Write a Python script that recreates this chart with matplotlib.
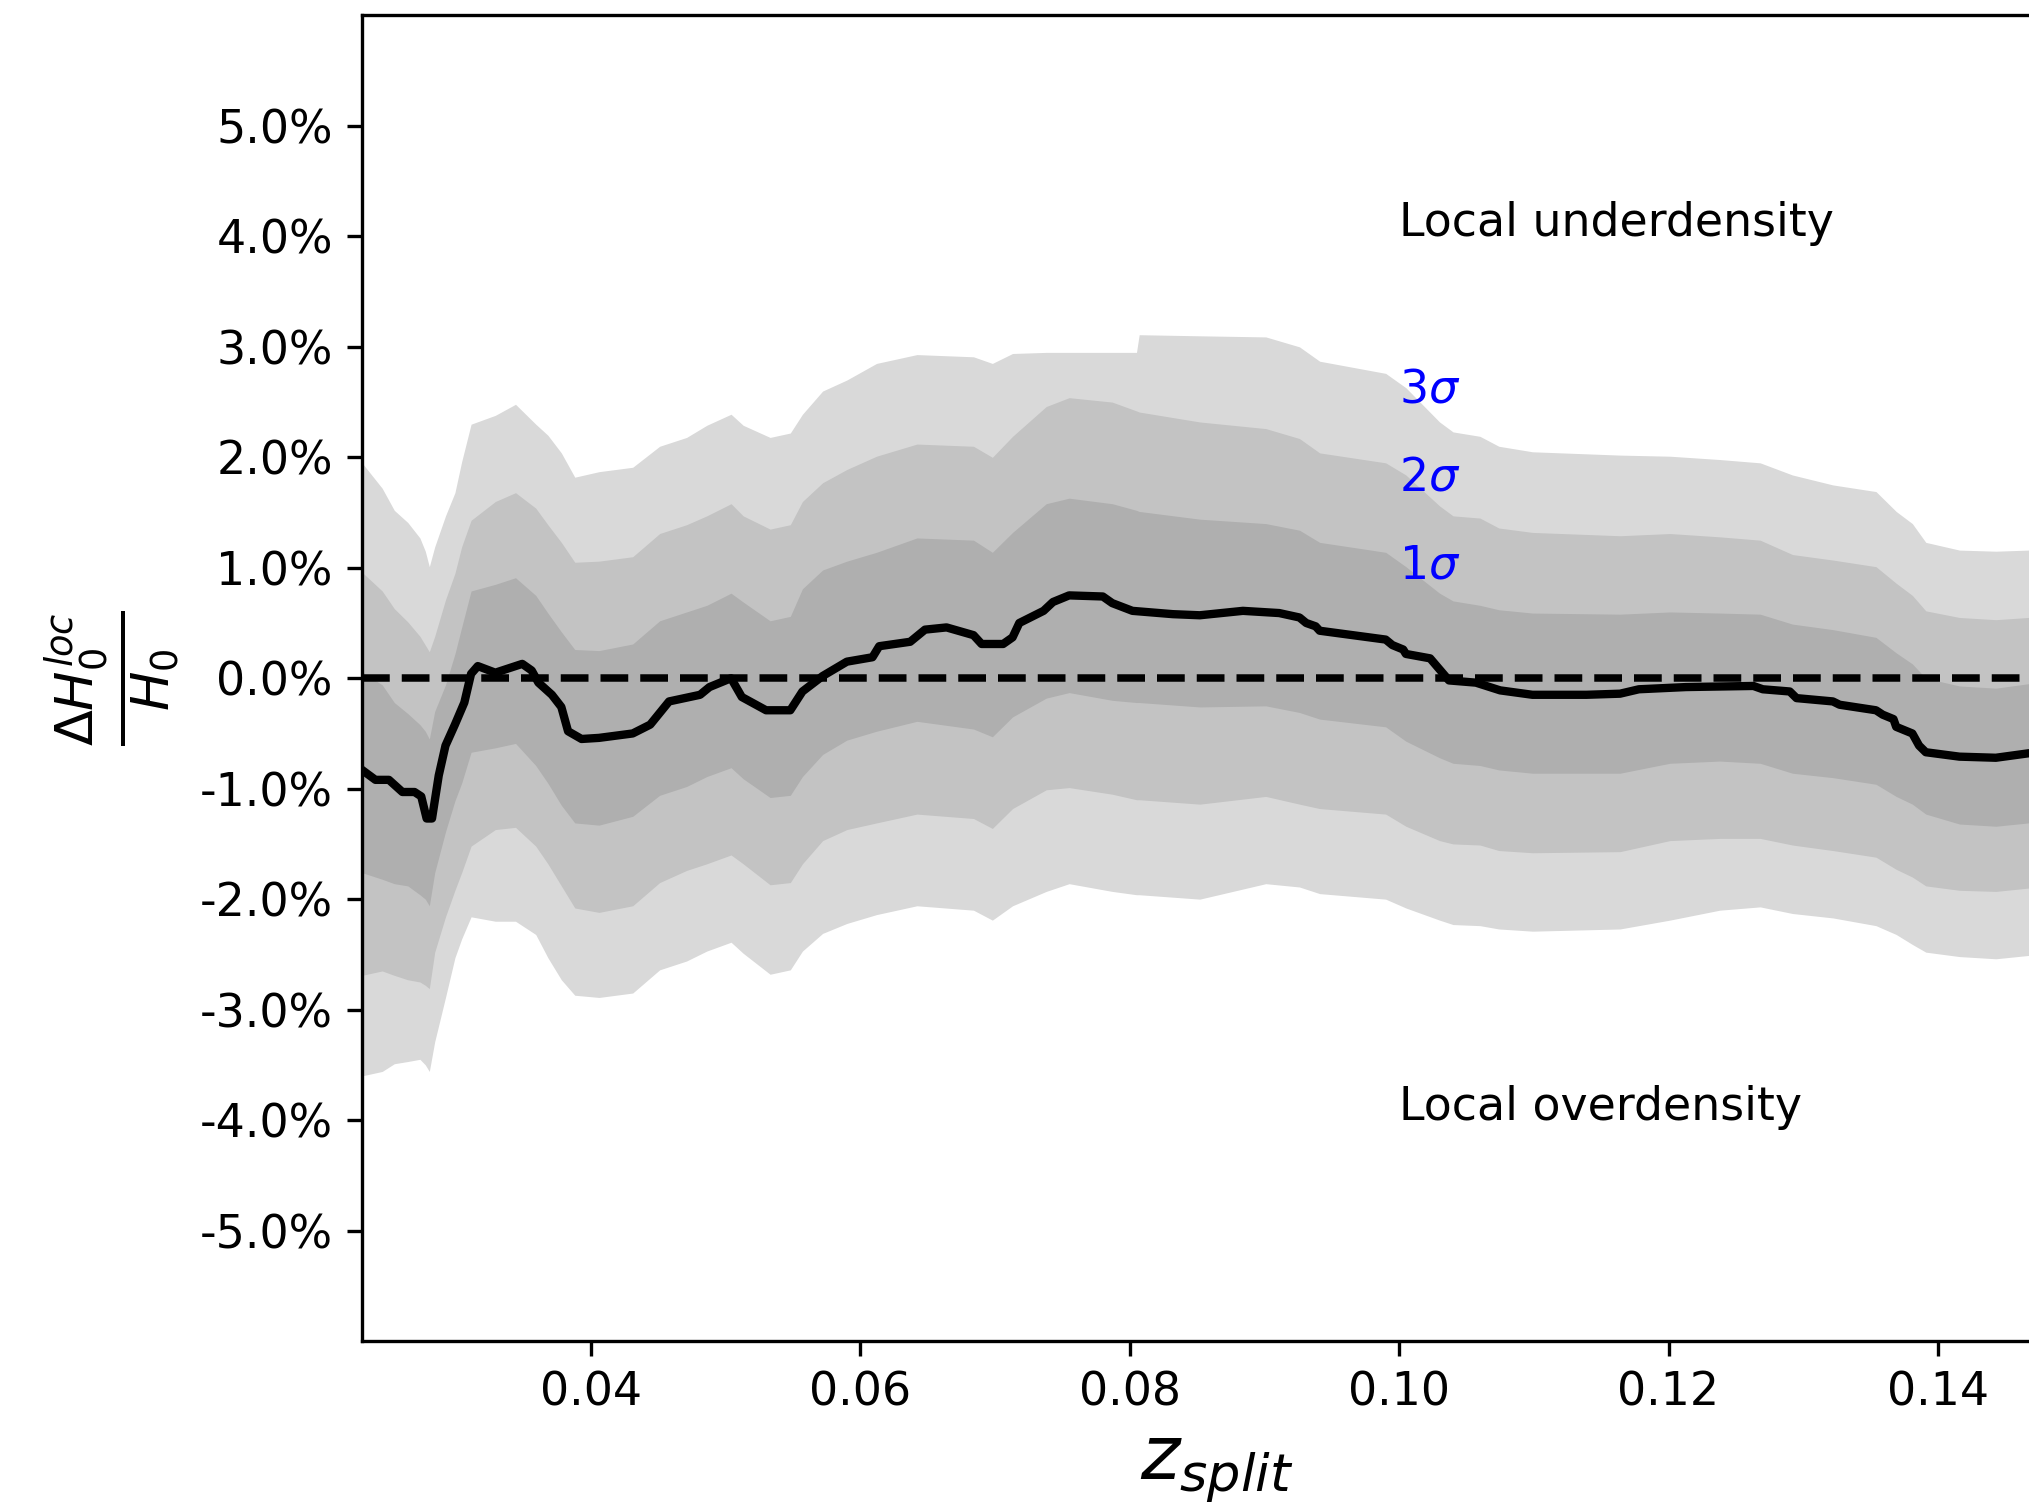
import matplotlib
matplotlib.use('Agg')
import matplotlib.pyplot as plt
from matplotlib.ticker import FuncFormatter

# sigma bands (in %)
band_z = [0.0230, 0.0245, 0.0254, 0.0264, 0.0273, 0.0277, 0.0280, 0.0284, 0.0292, 0.0299,
          0.0304, 0.0311, 0.0329, 0.0344, 0.0359, 0.0368, 0.0378, 0.0388, 0.0406, 0.0431,
          0.0451, 0.0471, 0.0486, 0.0504, 0.0513, 0.0533, 0.0548, 0.0557, 0.0572, 0.0590,
          0.0612, 0.0642, 0.0684, 0.0698, 0.0713, 0.0738, 0.0755, 0.0787, 0.0805,
          0.0807, 0.0852, 0.0901, 0.0926, 0.0941, 0.0990, 0.1005, 0.1030, 0.1040, 0.1060,
          0.1074, 0.1099, 0.1164, 0.1201, 0.1238, 0.1268, 0.1292, 0.1322, 0.1354, 0.1369,
          0.1381, 0.1391, 0.1416, 0.1443, 0.1467, 0.1500]
up3 = [1.95, 1.72, 1.52, 1.41, 1.27, 1.15, 1.01, 1.19, 1.47, 1.68,
       1.96, 2.30, 2.38, 2.48, 2.30, 2.20, 2.04, 1.82, 1.87, 1.91,
       2.10, 2.18, 2.29, 2.39, 2.29, 2.18, 2.22, 2.39, 2.60, 2.70,
       2.85, 2.93, 2.91, 2.85, 2.94, 2.95, 2.95, 2.95, 2.95,
       3.11, 3.10, 3.09, 3.00, 2.87, 2.76, 2.63, 2.32, 2.23, 2.19,
       2.10, 2.05, 2.02, 2.01, 1.98, 1.95, 1.84, 1.75, 1.69, 1.51,
       1.40, 1.23, 1.16, 1.15, 1.16, 1.17]
up2 = [0.96, 0.79, 0.63, 0.51, 0.38, 0.30, 0.24, 0.38, 0.71, 0.95,
       1.19, 1.43, 1.60, 1.68, 1.54, 1.39, 1.23, 1.05, 1.06, 1.10,
       1.31, 1.39, 1.47, 1.58, 1.47, 1.35, 1.39, 1.60, 1.77, 1.89,
       2.01, 2.12, 2.10, 2.00, 2.19, 2.46, 2.54, 2.50, 2.42,
       2.41, 2.32, 2.26, 2.17, 2.04, 1.95, 1.84, 1.56, 1.47, 1.45,
       1.36, 1.32, 1.29, 1.31, 1.28, 1.25, 1.12, 1.07, 1.01, 0.86,
       0.75, 0.61, 0.55, 0.53, 0.55, 0.56]
up1 = [0.06, -0.06, -0.22, -0.32, -0.42, -0.48, -0.55, -0.30, -0.06, 0.22,
       0.46, 0.79, 0.85, 0.91, 0.75, 0.59, 0.42, 0.26, 0.25, 0.31,
       0.52, 0.60, 0.66, 0.77, 0.69, 0.52, 0.56, 0.81, 0.98, 1.06,
       1.14, 1.27, 1.25, 1.14, 1.32, 1.58, 1.63, 1.58, 1.52,
       1.51, 1.44, 1.40, 1.34, 1.23, 1.14, 1.01, 0.77, 0.70, 0.66,
       0.62, 0.59, 0.58, 0.60, 0.59, 0.58, 0.49, 0.44, 0.37, 0.23,
       0.13, 0.00, -0.07, -0.09, -0.05, -0.04]
lo1 = [-1.76, -1.82, -1.86, -1.88, -1.96, -2.00, -2.06, -1.76, -1.39, -1.11,
       -0.95, -0.67, -0.63, -0.59, -0.79, -0.95, -1.15, -1.31, -1.33, -1.25,
       -1.06, -0.98, -0.89, -0.81, -0.91, -1.08, -1.06, -0.89, -0.69, -0.56,
       -0.48, -0.39, -0.46, -0.53, -0.35, -0.18, -0.13, -0.20, -0.22,
       -0.22, -0.26, -0.25, -0.31, -0.37, -0.44, -0.57, -0.72, -0.77, -0.79,
       -0.83, -0.86, -0.86, -0.77, -0.75, -0.77, -0.86, -0.90, -0.96, -1.07,
       -1.14, -1.23, -1.32, -1.34, -1.31, -1.30]
lo2 = [-2.69, -2.65, -2.69, -2.73, -2.75, -2.78, -2.81, -2.48, -2.16, -1.92,
       -1.76, -1.52, -1.37, -1.35, -1.52, -1.68, -1.88, -2.08, -2.12, -2.06,
       -1.85, -1.74, -1.68, -1.60, -1.68, -1.87, -1.85, -1.68, -1.47, -1.37,
       -1.31, -1.23, -1.27, -1.36, -1.18, -1.01, -0.99, -1.05, -1.10,
       -1.10, -1.14, -1.07, -1.14, -1.18, -1.23, -1.34, -1.47, -1.50, -1.51,
       -1.56, -1.58, -1.57, -1.47, -1.45, -1.45, -1.51, -1.56, -1.62, -1.73,
       -1.80, -1.88, -1.92, -1.93, -1.90, -1.89]
lo3 = [-3.60, -3.56, -3.49, -3.47, -3.45, -3.50, -3.56, -3.29, -2.89, -2.53,
       -2.36, -2.16, -2.20, -2.20, -2.32, -2.53, -2.73, -2.87, -2.89, -2.85,
       -2.64, -2.56, -2.47, -2.39, -2.49, -2.68, -2.64, -2.47, -2.31, -2.22,
       -2.14, -2.06, -2.10, -2.19, -2.06, -1.93, -1.86, -1.93, -1.96,
       -1.96, -2.00, -1.86, -1.89, -1.95, -2.00, -2.08, -2.19, -2.23, -2.24,
       -2.27, -2.29, -2.27, -2.19, -2.10, -2.07, -2.13, -2.17, -2.24, -2.32,
       -2.41, -2.48, -2.52, -2.54, -2.51, -2.50]

# measured local H0 deviation (in %)
line_z = [0.0230, 0.0240, 0.0250, 0.0260, 0.0269, 0.0274, 0.0278, 0.0282, 0.0287, 0.0292,
          0.0299, 0.0306, 0.0311, 0.0316, 0.0329, 0.0339, 0.0349, 0.0356, 0.0361, 0.0371,
          0.0378, 0.0383, 0.0393, 0.0406, 0.0431, 0.0444, 0.0458, 0.0481, 0.0488, 0.0504,
          0.0512, 0.0530, 0.0548, 0.0557, 0.0572, 0.0590, 0.0609, 0.0614, 0.0637, 0.0648,
          0.0664, 0.0684, 0.0690, 0.0706, 0.0713, 0.0718,
          0.0736, 0.0743, 0.0755, 0.0780, 0.0787, 0.0802, 0.0832, 0.0852, 0.0884, 0.0911,
          0.0926, 0.0931, 0.0938, 0.0941, 0.0990, 0.0995, 0.1003, 0.1005, 0.1023, 0.1030,
          0.1037, 0.1057, 0.1075, 0.1099, 0.1139, 0.1164, 0.1178, 0.1213, 0.1263, 0.1270,
          0.1290, 0.1295, 0.1322, 0.1327, 0.1354, 0.1359, 0.1367, 0.1369, 0.1381, 0.1386,
          0.1391, 0.1416, 0.1443, 0.1467, 0.1500]
line_v = [-0.83, -0.92, -0.92, -1.03, -1.03, -1.07, -1.27, -1.27, -0.88, -0.61,
          -0.42, -0.22, 0.04, 0.11, 0.05, 0.09, 0.13, 0.07, -0.04, -0.15,
          -0.26, -0.48, -0.55, -0.54, -0.50, -0.42, -0.21, -0.15, -0.08, 0.00,
          -0.17, -0.29, -0.29, -0.12, 0.02, 0.15, 0.19, 0.29, 0.33, 0.44,
          0.46, 0.39, 0.31, 0.31, 0.37, 0.50,
          0.61, 0.69, 0.75, 0.74, 0.68, 0.61, 0.58, 0.57, 0.61, 0.59,
          0.55, 0.50, 0.47, 0.43, 0.35, 0.30, 0.26, 0.22, 0.18, 0.08,
          -0.02, -0.04, -0.11, -0.15, -0.15, -0.14, -0.10, -0.08, -0.07, -0.10,
          -0.12, -0.18, -0.21, -0.24, -0.29, -0.33, -0.37, -0.44, -0.50, -0.61,
          -0.67, -0.71, -0.72, -0.68, -0.64]

yticks = [-5, -4, -3, -2, -1, 0, 1, 2, 3, 4, 5]
xticks = [0.04, 0.06, 0.08, 0.10, 0.12, 0.14]

fig = plt.figure(figsize=(2029 / 300, 1504 / 300), dpi=300)
ax = fig.add_axes([0.1784, 0.1084, 0.8431, 0.8813])

ax.fill_between(band_z, lo3, up3, color='#d9d9d9', lw=0)
ax.fill_between(band_z, lo2, up2, color='#c3c3c3', lw=0)
ax.fill_between(band_z, lo1, up1, color='#afafaf', lw=0)
ax.plot(line_z, line_v, color='black', lw=2.0)
ax.axhline(0, color='black', ls='--', lw=1.8)

ax.text(0.1, 4.0, 'Local underdensity', fontsize=11)
ax.text(0.1, -4.0, 'Local overdensity', fontsize=11)
ax.text(0.1, 2.5, r'$3\sigma$', fontsize=11, color='blue')
ax.text(0.1, 1.7, r'$2\sigma$', fontsize=11, color='blue')
ax.text(0.1, 0.9, r'$1\sigma$', fontsize=11, color='blue')

ax.set_xlim(0.023, 0.15)
ax.set_ylim(-6, 6)
ax.set_xticks(xticks)
ax.set_yticks(yticks)
ax.yaxis.set_major_formatter(FuncFormatter(lambda v, p: '%.1f%%' % v))
ax.tick_params(labelsize=11)
ax.set_xlabel(r'$z_{split}$', fontsize=18)
ax.set_ylabel(r'$\frac{\Delta H_0^{loc}}{H_0}$', fontsize=18)

fig.savefig('out.png', dpi=300)
